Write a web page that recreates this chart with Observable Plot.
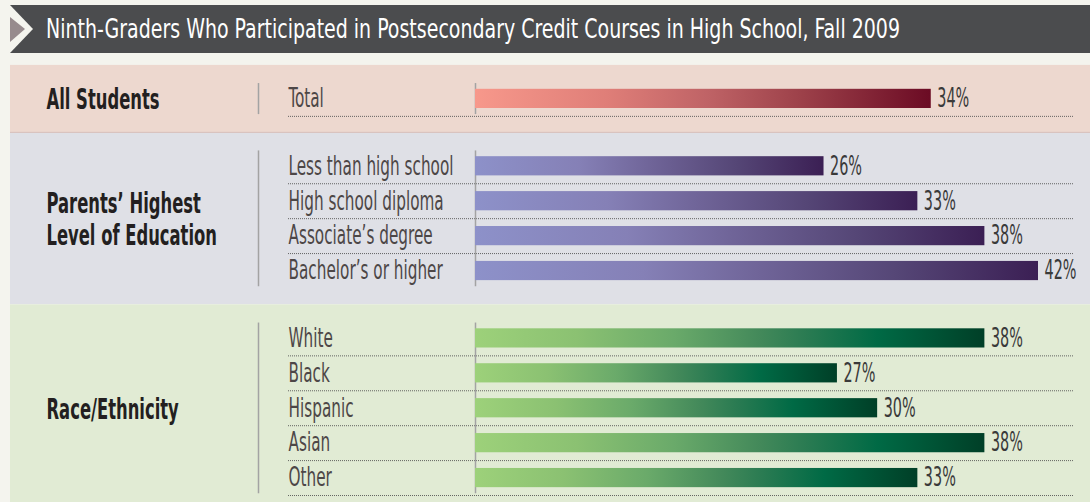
<!DOCTYPE html>
<html>
<head>
<meta charset="utf-8">
<script src="https://cdn.jsdelivr.net/npm/d3@7"></script>
<script src="https://cdn.jsdelivr.net/npm/@observablehq/plot@0.6"></script>
<style>
  html, body { margin: 0; padding: 0; background: #f4f4ee; }
  body { width: 1090px; height: 502px; overflow: hidden; }
  #header { display: block; margin: 5px 0 0 10px; }
  #chart { margin-top: 7px; }
  #chart svg { display: block; }
</style>
</head>
<body>
<svg id="header" width="1080" height="48"></svg>
<div id="chart"></div>
<script>
// ---- data ----
const title = "Ninth-Graders Who Participated in Postsecondary Credit Courses in High School, Fall 2009";
const groupKeys = ["all", "parents", "race"];
const groupNames = ["All Students", "Parents’ Highest\nLevel of Education", "Race/Ethnicity"];
const allLabels = ["Total"];
const allValues = [34];
const parentLabels = ["Less than high school", "High school diploma", "Associate’s degree", "Bachelor’s or higher"];
const parentValues = [26, 33, 38, 42];
const raceLabels = ["White", "Black", "Hispanic", "Asian", "Other"];
const raceValues = [38, 27, 30, 38, 33];

// ---- styling ----
const panelColors = {all: "#edd8cf", parents: "#dfe0e6", race: "#e1ebd4"};
const gradStops = {
  all: [[0, "#f7988b"], [0.29, "#df7e78"], [0.51, "#bf6366"], [0.72, "#9c4049"], [1, "#6b0b24"]],
  parents: [[0, "#8d91c9"], [0.3, "#8580b6"], [0.5, "#706599"], [0.75, "#554676"], [1, "#3b1f54"]],
  race: [[0, "#9dd17a"], [0.2, "#8bc172"], [0.39, "#6aaa6a"], [0.56, "#43895a"], [0.65, "#2a7b52"], [0.79, "#006a45"], [1, "#003f27"]]
};
const FONT = '"Liberation Sans Narrow", "DejaVu Sans Condensed", "Liberation Sans", sans-serif';
const GAP = 0.93;

// ---- build rows ----
const groupData = [
  {labels: allLabels, values: allValues},
  {labels: parentLabels, values: parentValues},
  {labels: raceLabels, values: raceValues}
];
const rows = [];
const groups = [];
let idx = 0;
groupData.forEach((g, gi) => {
  const first = idx + gi * GAP;
  g.labels.forEach((label, i) => {
    rows.push({group: groupKeys[gi], label, value: g.values[i], pos: idx + gi * GAP, last: i === g.labels.length - 1});
    idx++;
  });
  const last = (idx - 1) + gi * GAP;
  groups.push({key: groupKeys[gi], name: groupNames[gi], first, last, mid: (first + last) / 2});
});
const dottedRows = rows.filter(r => !(r.group === "parents" && r.last));

// ---- header ----
const ns = "http://www.w3.org/2000/svg";
const header = document.getElementById("header");
header.innerHTML = `
  <rect x="0" y="0" width="1080" height="48" fill="#4b4c4e"></rect>
  <polygon points="0,0 23,24 0,48" fill="#f4f4ee"></polygon>
  <polygon points="0,12 15,24 0,37" fill="#978b8d"></polygon>
  <text x="36" y="33" fill="#ffffff" font-size="26" style="font-family:${FONT.replace(/"/g, "'")}"></text>`;
header.querySelector("text").textContent = title;

// ---- gradients ----
const defsMark = () => {
  const defs = document.createElementNS(ns, "defs");
  for (const k of groupKeys) {
    const lg = document.createElementNS(ns, "linearGradient");
    lg.setAttribute("id", "grad-" + k);
    lg.setAttribute("x1", "0"); lg.setAttribute("x2", "1");
    lg.setAttribute("y1", "0"); lg.setAttribute("y2", "0");
    for (const [o, c] of gradStops[k]) {
      const s = document.createElementNS(ns, "stop");
      s.setAttribute("offset", o);
      s.setAttribute("stop-color", c);
      lg.appendChild(s);
    }
    defs.appendChild(lg);
  }
  return defs;
};

const H = 442;
const chart = Plot.plot({
  width: 1090,
  height: H,
  marginLeft: 0, marginRight: 0, marginTop: 0, marginBottom: 0,
  style: {background: "transparent", fontFamily: FONT},
  x: {domain: [0, d3.max(rows, d => d.value)], range: [475, 1038], axis: null},
  y: {domain: [d3.min(rows, d => d.pos) - 1.1, d3.max(rows, d => d.pos) + 0.7], range: [0, H], axis: null},
  marks: [
    defsMark,
    Plot.rect(groups, {y1: d => d.first - 0.96, y2: d => d.last + 0.96, insetLeft: 10, fill: d => panelColors[d.key]}),
    Plot.ruleY(groups.slice(0, 1), {y: d => d.last + 0.96, insetLeft: 10, stroke: "#d9c3bf", strokeWidth: 1.2}),
    Plot.ruleY(dottedRows, {y: d => d.pos + 0.5, insetLeft: 288, insetRight: 16, stroke: "#555", strokeWidth: 1, strokeDasharray: "1,1", strokeOpacity: 0.9}),
    Plot.ruleX(groups, {x: 0, y1: d => d.first - 0.44, y2: d => d.last + 0.45, stroke: "#a3a3a3", strokeWidth: 1.5, dx: -217}),
    Plot.ruleX(groups, {x: 0, y1: d => d.first - 0.44, y2: d => d.last + 0.45, stroke: "#a3a3a3", strokeWidth: 1.5}),
    ...groupKeys.map(k => Plot.rect(rows.filter(r => r.group === k), {
      x1: 0, x2: "value", y1: d => d.pos - 0.275, y2: d => d.pos + 0.275, fill: `url(#grad-${k})`
    })),
    Plot.text(groups, {y: "mid", text: "name", frameAnchor: "left", dx: 46, fontSize: 28, fontWeight: "bold", fill: "#231f20", lineHeight: 1.15}),
    Plot.text(rows, {y: "pos", text: "label", frameAnchor: "left", dx: 288, fontSize: 26, fill: "#4d4747"}),
    Plot.text(rows, {x: "value", y: "pos", text: d => d.value + "%", textAnchor: "start", dx: 6, fontSize: 26, fill: "#3a3a3a"})
  ]
});
document.getElementById("chart").appendChild(chart);

// ---- condense text to the narrow typeface widths of the original ----
function squeeze(nodes, refNode, target) {
  if (!refNode) return;
  const f = target / refNode.getComputedTextLength();
  const jobs = [];
  for (const n of nodes) {
    const parts = n.querySelectorAll("tspan");
    const list = parts.length ? [...parts] : [n];
    for (const p of list) jobs.push([p, p.getComputedTextLength() * f]);
  }
  for (const [p, L] of jobs) {
    p.setAttribute("textLength", L.toFixed(2));
    p.setAttribute("lengthAdjust", "spacingAndGlyphs");
  }
}
const textGroups = [...chart.querySelectorAll('g[aria-label="text"]')];
const grps = [...textGroups[0].querySelectorAll("text")];
const cats = [...textGroups[1].querySelectorAll("text")];
const vals = [...textGroups[2].querySelectorAll("text")];
squeeze(cats, cats.find(t => t.textContent === "Less than high school"), 165);
squeeze(vals, vals.find(t => t.textContent === "34%"), 32);
squeeze(grps, grps.find(t => t.textContent === "All Students"), 113);
const ttl = header.querySelector("text");
squeeze([ttl], ttl, 854);
</script>
</body>
</html>
